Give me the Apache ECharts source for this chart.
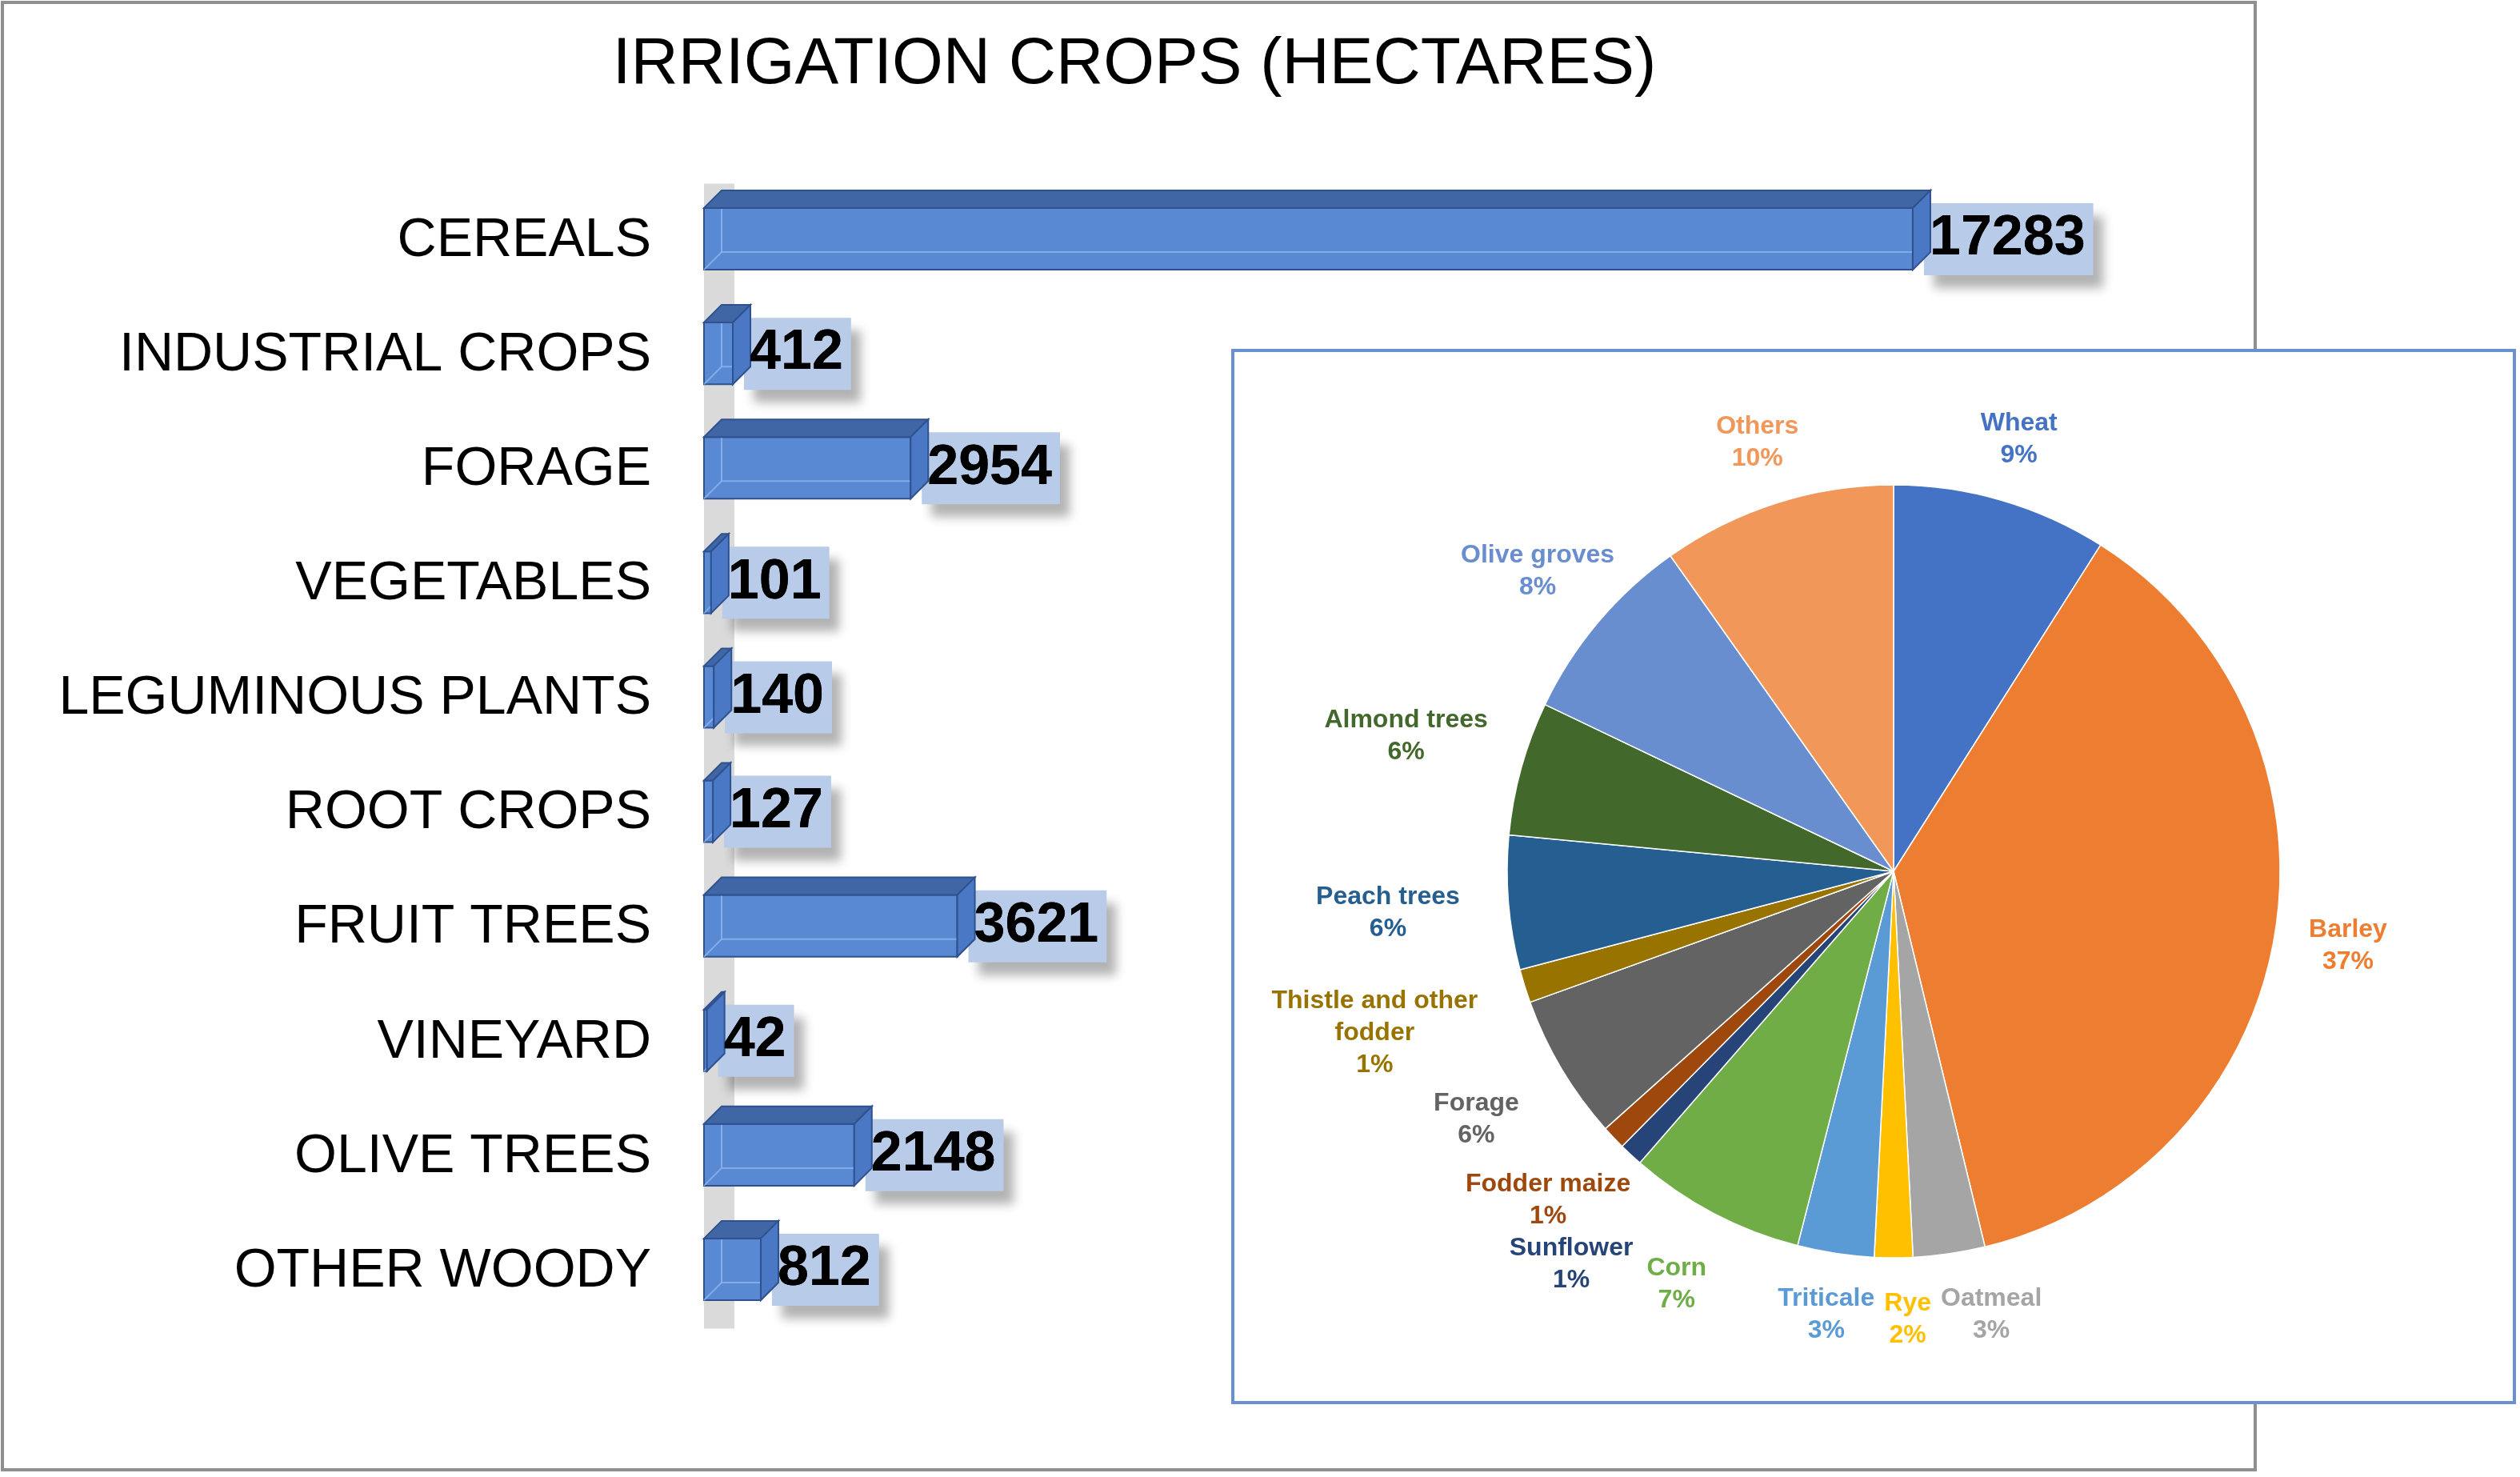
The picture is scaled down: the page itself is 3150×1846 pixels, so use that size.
<!DOCTYPE html>
<html lang="en">
<head>
<meta charset="UTF-8">
<title>Irrigation crops (hectares)</title>
<script src="https://cdn.jsdelivr.net/npm/echarts@6/dist/echarts.min.js"></script>
<style>
  html, body { margin: 0; padding: 0; background: #fff; }
  #chart { width: 3150px; height: 1846px; }
</style>
</head>
<body>
<div id="chart"></div>
<script>
// bar chart: irrigated area per crop group, hectares
var cropGroups = ['CEREALS', 'INDUSTRIAL CROPS', 'FORAGE', 'VEGETABLES', 'LEGUMINOUS PLANTS',
  'ROOT CROPS', 'FRUIT TREES', 'VINEYARD', 'OLIVE TREES', 'OTHER WOODY'];
var hectares = [17283, 412, 2954, 101, 140, 127, 3621, 42, 2148, 812];

// pie inset: share of the irrigated area per crop, %
var pieCrops = ['Wheat', 'Barley', 'Oatmeal', 'Rye', 'Triticale', 'Corn', 'Sunflower', 'Fodder maize',
  'Forage', 'Thistle and other fodder', 'Peach trees', 'Almond trees', 'Olive groves', 'Others'];
var pieShares = [9.0, 37.2, 3.0, 1.6, 3.2, 7.4, 1.0, 1.0, 6.1, 1.4, 5.6, 5.6, 8.1, 9.8];
var pieColors = ['#4472C4', '#ED7D31', '#A5A5A5', '#FFC000', '#5B9BD5', '#70AD47', '#264478', '#9E480E',
  '#636363', '#997300', '#255E91', '#43682B', '#698ED0', '#F1975A'];

var FONT = '"Liberation Sans", Arial, sans-serif';
var DEPTH = 22;
var PIE_CX = 2367, PIE_CY = 1089, PIE_R = 483, LABEL_GAP = 37;

var chart = echarts.init(document.getElementById('chart'));

// 3D-looking box for one bar, plus its value box
function renderBox(params, api) {
    var val = api.value(0);
    var p0 = api.coord([0, api.value(1)]);
    var p1 = api.coord([val, api.value(1)]);
    var band = api.size([0, 1])[1];
    var c = p0[1];
    var x0 = p0[0], x1 = p1[0];
    var yTop = c - band * 0.287, yBot = c + band * 0.252;
    var D = DEPTH;
    var edge = '#2F528F';
    var labelStyle = {
        text: String(val),
        font: 'bold 70px ' + FONT,
        fill: '#000',
        align: 'left',
        verticalAlign: 'middle',
        lineHeight: 72,
        padding: [11, 10, 7, 7]
    };
    return {
        type: 'group',
        children: [
            { type: 'text', x: x1 + 14, y: c - 2, style: Object.assign({}, labelStyle, {
                backgroundColor: '#B8CBE8',
                shadowColor: 'rgba(0,0,0,0.3)', shadowBlur: 12, shadowOffsetX: 12, shadowOffsetY: 16
            }) },
            { type: 'rect', shape: { x: x0, y: yTop, width: x1 - x0, height: yBot - yTop },
              style: { fill: '#5889D2', stroke: edge, lineWidth: 2 } },
            { type: 'polyline', shape: { points: [[x0, yBot], [x0 + D, yBot - D], [x1 + D, yBot - D]] },
              style: { stroke: 'rgba(150,185,240,0.7)', lineWidth: 2, fill: null } },
            { type: 'polyline', shape: { points: [[x0 + D, yTop - D], [x0 + D, yBot - D]] },
              style: { stroke: 'rgba(150,185,240,0.7)', lineWidth: 2, fill: null } },
            { type: 'polygon', shape: { points: [[x0, yTop], [x0 + D, yTop - D], [x1 + D, yTop - D], [x1, yTop]] },
              style: { fill: '#4166A6', stroke: edge, lineWidth: 2 } },
            { type: 'polygon', shape: { points: [[x1, yTop], [x1 + D, yTop - D], [x1 + D, yBot - D], [x1, yBot]] },
              style: { fill: '#4A78C4', stroke: edge, lineWidth: 2 } },
            { type: 'text', x: x1 + 14, y: c - 2, style: labelStyle }
        ]
    };
}

// wrap long pie names onto two lines
function wrapName(name) {
    if (name.length <= 18) return name;
    var cut = name.lastIndexOf(' ', 18);
    return name.slice(0, cut) + '\n' + name.slice(cut + 1);
}

// push each pie label outwards so its nearest edge sits just off the rim
function placePieLabel(p) {
    var r = p.labelRect;
    var dx = r.x + r.width / 2 - PIE_CX, dy = r.y + r.height / 2 - PIE_CY;
    var len = Math.sqrt(dx * dx + dy * dy) || 1;
    var ux = dx / len, uy = dy / len;
    var reachX = Math.abs(ux) > 1e-6 ? (r.width / 2) / Math.abs(ux) : Infinity;
    var reachY = Math.abs(uy) > 1e-6 ? (r.height / 2) / Math.abs(uy) : Infinity;
    var gap = LABEL_GAP + (uy > 0 && ux < -0.3 ? 18 : 0);
    var d = PIE_R + gap + Math.min(reachX, reachY);
    var out = { x: PIE_CX + ux * d, y: PIE_CY + uy * d, align: 'center', verticalAlign: 'middle' };
    if (ux < -0.6) out.moveOverlap = 'shiftY';
    else if (uy > 0.8) out.moveOverlap = 'shiftX';
    return out;
}

chart.setOption({
    animation: false,
    backgroundColor: '#fff',
    title: {
        text: 'IRRIGATION CROPS (HECTARES)',
        left: 1418,
        top: 40,
        textAlign: 'center',
        padding: 0,
        textStyle: { fontSize: 82, fontWeight: 'normal', color: '#000', fontFamily: FONT }
    },
    graphic: [
        { type: 'rect', z: 0, shape: { x: 3, y: 3, width: 2816, height: 1834 },
          style: { fill: 'transparent', stroke: '#8f8f8f', lineWidth: 4 } },
        { type: 'rect', z: 1, shape: { x: 1541, y: 438, width: 1602, height: 1315 },
          style: { fill: '#fff', stroke: '#6A8FD3', lineWidth: 4 } }
    ],
    grid: { left: 880, right: 521.5, top: 229.5, bottom: 185.5 },
    xAxis: { type: 'value', min: 0, max: 20000, show: false },
    yAxis: {
        type: 'category',
        data: cropGroups,
        inverse: true,
        offset: -19,
        axisTick: { show: false },
        axisLine: { lineStyle: { color: '#dadada', width: 38, cap: 'butt' } },
        axisLabel: { margin: 85, fontSize: 68, color: '#000', fontFamily: FONT, padding: [16, 0, 0, 0] }
    },
    series: [
        {
            type: 'custom',
            renderItem: renderBox,
            encode: { x: 0, y: 1 },
            data: hectares.map(function (v, i) { return [v, i]; }),
            z: 3
        },
        {
            type: 'pie',
            center: [PIE_CX, PIE_CY],
            radius: PIE_R,
            startAngle: 90,
            clockwise: true,
            avoidLabelOverlap: false,
            z: 4,
            itemStyle: { borderColor: '#fff', borderWidth: 1.5 },
            label: {
                position: 'inside',
                fontSize: 32,
                fontWeight: 'bold',
                fontFamily: FONT,
                lineHeight: 40,
                align: 'center',
                padding: [0, 6],
                formatter: function (p) { return wrapName(p.name) + '\n' + Math.round(p.percent) + '%'; }
            },
            labelLine: { show: false },
            labelLayout: placePieLabel,
            emphasis: { disabled: true },
            data: pieCrops.map(function (n, i) {
                return { name: n, value: pieShares[i], itemStyle: { color: pieColors[i] }, label: { color: pieColors[i] } };
            })
        }
    ]
});
</script>
</body>
</html>
